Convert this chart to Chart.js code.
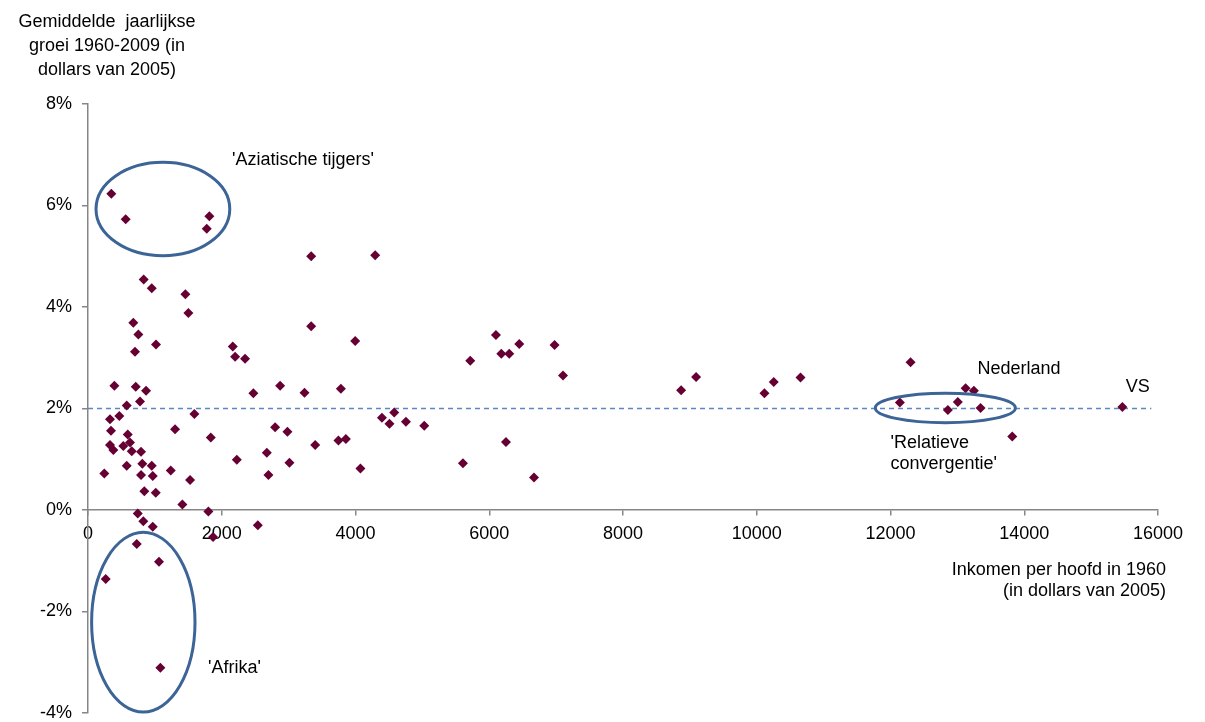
<!DOCTYPE html>
<html>
<head>
<meta charset="utf-8">
<script src="https://cdn.jsdelivr.net/npm/chart.js@4"></script>
<style>
  html, body { margin: 0; padding: 0; background: #fff; }
  #wrap { width: 1205px; height: 722px; }
</style>
</head>
<body>
<div id="wrap"><canvas id="groei-chart"></canvas></div>
<script>
// inkomen per hoofd 1960 (dollars van 2005) en gemiddelde groei 1960-2009 (%)
const incomes = [
  349, 564, 1815, 1776, 833, 953, 1456, 1501, 678, 753,
  1017, 2165, 703, 2200, 2349, 394, 714, 868, 2473, 2873,
  778, 579, 329, 468, 1591, 344, 1302, 594, 1836, 2798,
  329, 379, 528, 628, 654, 793, 2674, 244, 579, 812,
  953, 793, 968, 1237, 2225, 2698, 1526, 842, 1013, 1411,
  1800, 744, 827, 968, 2539, 1870, 729, 1062, 265, 1082,
  3337, 4294, 3337, 3995, 3237, 3781, 4395, 4579, 4508, 4754,
  5028, 2982, 3397, 3745, 3856, 3012, 4074, 5716, 6100, 6180,
  6299, 6449, 6977, 7103, 8869, 9093, 6250, 5607, 6669, 10115,
  10254, 10654, 12300, 12140, 12858, 13007, 13123, 13247, 13347, 13821,
  15467
];
const growth = [
  6.23, 5.73, 5.79, 5.54, 4.54, 4.37, 4.25, 3.88, 3.69, 3.46,
  3.26, 3.22, 3.12, 3.02, 2.98, 2.45, 2.43, 2.35, 2.30, 2.45,
  2.14, 2.06, 1.79, 1.85, 1.89, 1.56, 1.59, 1.49, 1.43, 1.63,
  1.28, 1.18, 1.26, 1.33, 1.16, 1.15, 1.13, 0.72, 0.87, 0.91,
  0.87, 0.69, 0.67, 0.78, 0.99, 0.69, 0.59, 0.37, 0.34, 0.11,
  -0.03, -0.07, -0.22, -0.33, -0.30, -0.53, -0.67, -1.02, -1.36, -3.11,
  5.00, 5.02, 3.62, 3.33, 2.31, 2.39, 1.82, 1.92, 1.70, 1.74,
  1.66, 1.54, 1.28, 1.37, 1.40, 0.93, 0.82, 2.94, 3.45, 3.08,
  3.08, 3.27, 3.25, 2.65, 2.36, 2.62, 1.34, 0.92, 0.64, 2.30,
  2.52, 2.61, 2.91, 2.12, 1.97, 2.13, 2.40, 2.35, 2.01, 1.45,
  2.03
];

// 2%-lijn
const refLevel = 2;
const refFrom = 0;
const refTo = 15900;

const xTicks = [0, 2000, 4000, 6000, 8000, 10000, 12000, 14000, 16000];
const yTicks = [-4, -2, 0, 2, 4, 6, 8];

// ellipsen: middelpunt en halve assen in data-eenheden
const rings = [
  { x: 1120, y: 5.93, rx: 1000, ry: 0.92 },
  { x: 827, y: -2.21, rx: 773, ry: 1.77 },
  { x: 12820, y: 2.01, rx: 1047, ry: 0.29 },
];

const notes = [
  { text: "'Aziatische tijgers'", x: 2155, y: 6.90 },
  { text: "'Afrika'", x: 1796, y: -3.12 },
  { text: "Nederland", x: 13302, y: 2.78 },
  { text: "VS", x: 15517, y: 2.43 },
  { text: "'Relatieve", x: 12000, y: 1.32 },
  { text: "convergentie'", x: 12000, y: 0.91 },
];

const yTitle = ["Gemiddelde  jaarlijkse", "groei 1960-2009 (in", "dollars van 2005)"];
const xTitle = ["Inkomen per hoofd in 1960", "(in dollars van 2005)"];

const FONT = "Liberation Sans, Arial, sans-serif";
const SIZE = 18;

const extras = {
  id: "extras",
  afterDatasetsDraw(chart) {
    const ctx = chart.ctx;
    const xs = chart.scales.x;
    const ys = chart.scales.y;
    ctx.save();
    ctx.strokeStyle = "#3c6496";
    ctx.lineWidth = 3;
    rings.forEach((r) => {
      const cx = xs.getPixelForValue(r.x);
      const cy = ys.getPixelForValue(r.y);
      const rx = xs.getPixelForValue(r.x + r.rx) - cx;
      const ry = cy - ys.getPixelForValue(r.y + r.ry);
      ctx.beginPath();
      ctx.ellipse(cx, cy, rx, ry, 0, 0, Math.PI * 2);
      ctx.stroke();
    });

    ctx.fillStyle = "#000";
    ctx.font = SIZE + "px " + FONT;
    ctx.textBaseline = "middle";
    ctx.textAlign = "left";
    notes.forEach((n) => {
      ctx.fillText(n.text, xs.getPixelForValue(n.x), ys.getPixelForValue(n.y));
    });

    ctx.textAlign = "center";
    yTitle.forEach((line, i) => ctx.fillText(line, 107, 22 + i * 24));
    ctx.textAlign = "right";
    xTitle.forEach((line, i) => ctx.fillText(line, 1166, 570 + i * 21));
    ctx.restore();
  },
};

// geen extra marge door labels aan de randen
const noEdgePadding = (s) => {
  s.paddingTop = 0;
  s.paddingBottom = 0;
  s.paddingLeft = 0;
  s.paddingRight = 0;
};

const ctx = document.querySelector("#groei-chart");

new Chart(ctx, {
  type: "scatter",
  data: {
    datasets: [
      {
        label: "2%",
        type: "line",
        data: [
          { x: refFrom, y: refLevel },
          { x: refTo, y: refLevel },
        ],
        borderColor: "#5b88c2",
        borderWidth: 1.3,
        borderDash: [5, 4],
        pointRadius: 0,
        fill: false,
        order: 2,
      },
      {
        label: "landen",
        data: incomes.map((v, i) => ({ x: v, y: growth[i] })),
        pointStyle: "rectRot",
        pointRadius: 5,
        backgroundColor: "#660033",
        borderColor: "#660033",
        borderWidth: 0,
        order: 1,
      },
    ],
  },
  options: {
    responsive: true,
    maintainAspectRatio: false,
    animation: false,
    layout: { padding: { top: 104, right: 47, bottom: 9, left: 0 } },
    plugins: {
      legend: { display: false },
      tooltip: { enabled: false },
    },
    scales: {
      x: {
        type: "linear",
        position: { y: 0 },
        min: 0,
        max: 16000,
        afterBuildTicks: (s) => {
          s.ticks = xTicks.map((v) => ({ value: v }));
        },
        afterFit: (s) => {
          s.height = 0;
          noEdgePadding(s);
        },
        grid: {
          drawOnChartArea: false,
          drawTicks: true,
          tickLength: 5,
          color: "#868686",
          lineWidth: 1.5,
        },
        border: { display: true, color: "#868686", width: 1.5 },
        ticks: {
          color: "#000",
          padding: 8,
          maxRotation: 0,
          font: { family: FONT, size: SIZE },
          callback: (v) => String(v),
        },
      },
      y: {
        type: "linear",
        min: -4,
        max: 8,
        afterBuildTicks: (s) => {
          s.ticks = yTicks.map((v) => ({ value: v }));
        },
        afterFit: (s) => {
          s.width = 88;
          noEdgePadding(s);
        },
        grid: {
          drawOnChartArea: false,
          drawTicks: true,
          tickLength: 6,
          color: "#868686",
          lineWidth: 1.5,
        },
        border: { display: true, color: "#868686", width: 1.5 },
        ticks: {
          color: "#000",
          padding: 10,
          font: { family: FONT, size: SIZE },
          callback: (v) => v + "%",
        },
      },
    },
  },
  plugins: [extras],
});
</script>
</body>
</html>
